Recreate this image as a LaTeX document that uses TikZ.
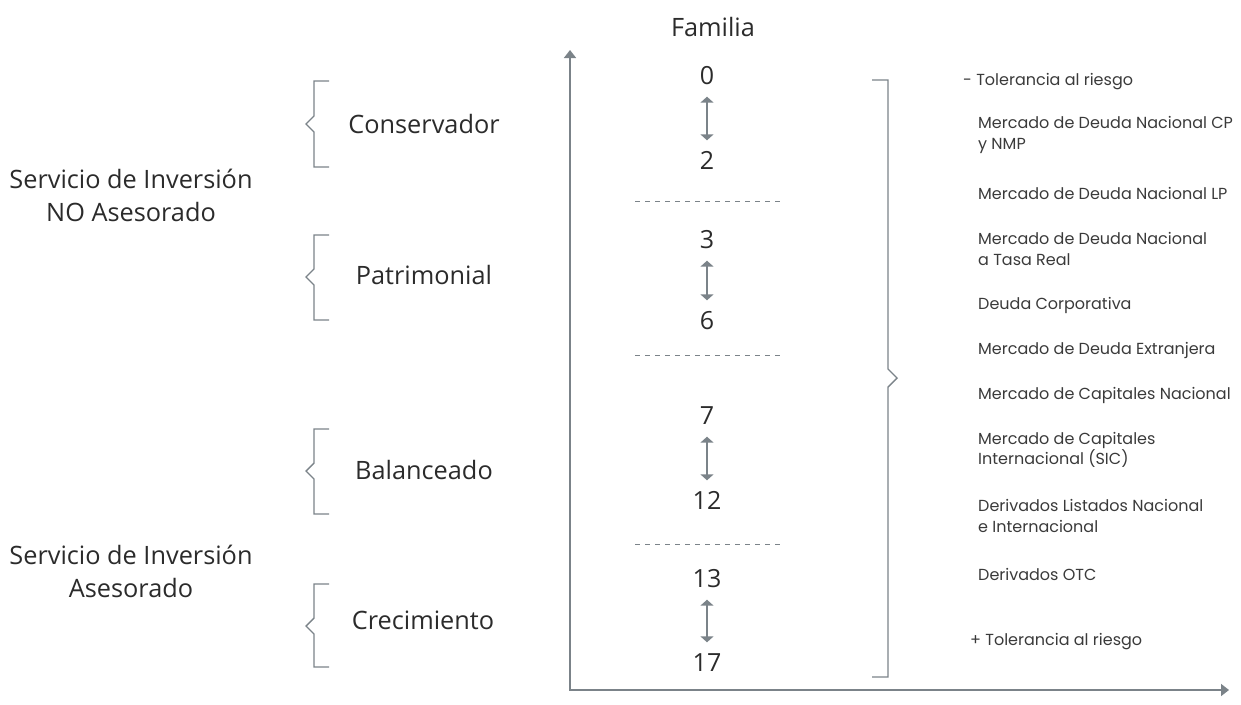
\documentclass[tikz,border=0pt]{standalone}
\usepackage{fontspec}
\setmainfont{Open Sans}
\newfontfamily\rightfont{Poppins}
\usetikzlibrary{arrows.meta}
\definecolor{ln}{HTML}{7B8389}
\definecolor{tx}{HTML}{2B2B2B}
\definecolor{tx2}{HTML}{3A3A3A}
\tikzset{
  big/.style={font=\fontsize{25.3}{33}\selectfont, text=tx, inner sep=0pt, align=center},
  num/.style={font=\fontsize{25}{29}\selectfont, text=tx, inner xsep=0pt, inner ysep=12pt, text height=17pt, text depth=0pt},
  small/.style={font=\rightfont\fontsize{16}{20.5}\selectfont, text=tx2, inner sep=0pt, align=left, anchor=west},
  axis/.style={draw=ln, line width=1.6pt, {Triangle[length=8pt,width=12pt]}-{Triangle[length=8pt,width=12pt]}},
  dbl/.style={draw=ln, line width=1.6pt, {Triangle[length=6pt,width=13pt]}-{Triangle[length=6pt,width=13pt]}},
  sep/.style={draw=ln, line width=1pt, dash pattern=on 5pt off 5pt},
  brace/.style={draw=ln, line width=1.4pt},
}
\begin{document}
\begin{tikzpicture}[x=1pt,y=-1pt]
\useasboundingbox (0,0) rectangle (1241,704);
% axes
\coordinate (ytop) at (570,50);
\coordinate (origin) at (570,690);
\coordinate (xend) at (1229,690);
\draw[axis] (ytop) -- (origin) -- (xend);
\node[big] (fam) at (713,27) {Familia};
% numbers
\node[num] (n0) at (707,76) {0};
\node[num] (n2) at (707,161) {2};
\node[num] (n3) at (707,240) {3};
\node[num] (n6) at (707,321) {6};
\node[num] (n7) at (707,416) {7};
\node[num] (n12) at (707,501) {12};
\node[num] (n13) at (707,579) {13};
\node[num] (n17) at (707,663) {17};
\draw[dbl] (n0) -- (n2);
\draw[dbl] (n3) -- (n6);
\draw[dbl] (n7) -- (n12);
\draw[dbl] (n13) -- (n17);
% separators
\coordinate (s1a) at (635,201); \coordinate (s1b) at (780,201);
\coordinate (s2a) at (635,355); \coordinate (s2b) at (780,355);
\coordinate (s3a) at (635,544); \coordinate (s3b) at (780,544);
\draw[sep] (s1a) -- (s1b);
\draw[sep] (s2a) -- (s2b);
\draw[sep] (s3a) -- (s3b);
% left braces and labels
\foreach \t/\b/\m in {81/167/124, 235/320/277, 429/514/471, 584/667/626}{
  \draw[brace] (329,\t) -- (314,\t) -- (314,\m-8) -- (306,\m) -- (314,\m+8) -- (314,\b) -- (329,\b);
}
\node[big] (cons) at (424,124) {Conservador};
\node[big] (patr) at (424,275) {Patrimonial};
\node[big] (bal) at (424,470) {Balanceado};
\node[big] (crec) at (423,620) {Crecimiento};
\node[big] (sno) at (131,195) {Servicio de Inversión\\NO Asesorado};
\node[big] (sas) at (131,571) {Servicio de Inversión\\Asesorado};
% right brace
\draw[brace] (872,80) -- (888,80) -- (888,369) -- (897,378) -- (888,387) -- (888,677) -- (872,677);
% right texts
\node[small] (r0) at (963,82) {- Tolerancia al riesgo};
\node[small] (r1) at (978,135) {Mercado de Deuda Nacional CP\\y NMP};
\node[small] (r2) at (978,193) {Mercado de Deuda Nacional LP};
\node[small] (r3) at (978,249) {Mercado de Deuda Nacional\\a Tasa Real};
\node[small] (r4) at (978,305) {Deuda Corporativa};
\node[small] (r5) at (978,350) {Mercado de Deuda Extranjera};
\node[small] (r6) at (978,395) {Mercado de Capitales Nacional};
\node[small] (r7) at (978,450) {Mercado de Capitales\\Internacional (SIC)};
\node[small] (r8) at (978,516) {Derivados Listados Nacional\\e Internacional};
\node[small] (r9) at (978,574) {Derivados OTC};
\node[small] (r10) at (970,642) {+ Tolerancia al riesgo};
\end{tikzpicture}
\end{document}
